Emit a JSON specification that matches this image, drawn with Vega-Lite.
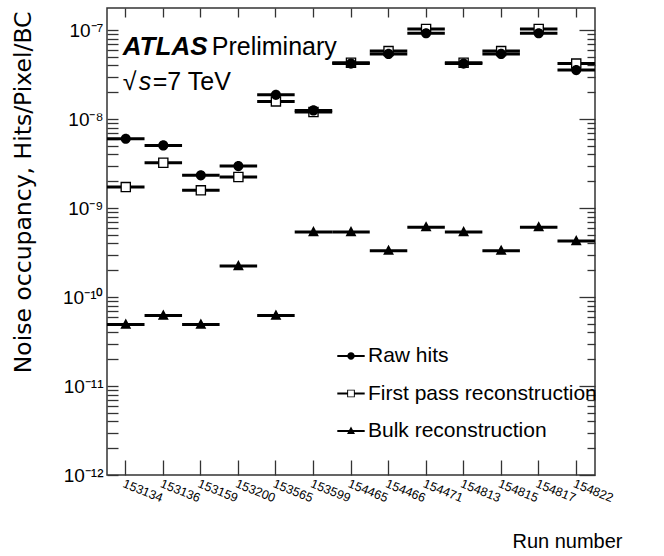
{
  "$schema": "https://vega.github.io/schema/vega-lite/v6.json",
  "width": 488,
  "height": 467,
  "autosize": {"type": "none"},
  "padding": {"left": 107, "top": 8, "right": 69, "bottom": 81},
  "background": "white",
  "config": {
    "view": {"stroke": "#333", "strokeWidth": 1.5},
    "axis": {"grid": false, "domain": false, "ticks": true, "tickColor": "#333", "tickWidth": 1.3, "labelColor": "black", "titleColor": "black", "labelFont": "Liberation Sans", "titleFont": "Liberation Sans", "titleFontWeight": "normal"}
  },
  "data": {"values": [
    {"run": "153134", "series": "First pass reconstruction", "value": 1.72e-9},
    {"run": "153136", "series": "First pass reconstruction", "value": 3.23e-9},
    {"run": "153159", "series": "First pass reconstruction", "value": 1.58e-9},
    {"run": "153200", "series": "First pass reconstruction", "value": 2.23e-9},
    {"run": "153565", "series": "First pass reconstruction", "value": 1.58e-8},
    {"run": "153599", "series": "First pass reconstruction", "value": 1.2e-8},
    {"run": "154465", "series": "First pass reconstruction", "value": 4.3e-8},
    {"run": "154466", "series": "First pass reconstruction", "value": 5.8e-8},
    {"run": "154471", "series": "First pass reconstruction", "value": 1.03e-7},
    {"run": "154813", "series": "First pass reconstruction", "value": 4.3e-8},
    {"run": "154815", "series": "First pass reconstruction", "value": 5.8e-8},
    {"run": "154817", "series": "First pass reconstruction", "value": 1.03e-7},
    {"run": "154822", "series": "First pass reconstruction", "value": 4.2e-8},
    {"run": "153134", "series": "Raw hits", "value": 6.0e-9},
    {"run": "153136", "series": "Raw hits", "value": 5.06e-9},
    {"run": "153159", "series": "Raw hits", "value": 2.33e-9},
    {"run": "153200", "series": "Raw hits", "value": 2.96e-9},
    {"run": "153565", "series": "Raw hits", "value": 1.87e-8},
    {"run": "153599", "series": "Raw hits", "value": 1.25e-8},
    {"run": "154465", "series": "Raw hits", "value": 4.2e-8},
    {"run": "154466", "series": "Raw hits", "value": 5.4e-8},
    {"run": "154471", "series": "Raw hits", "value": 9.2e-8},
    {"run": "154813", "series": "Raw hits", "value": 4.2e-8},
    {"run": "154815", "series": "Raw hits", "value": 5.4e-8},
    {"run": "154817", "series": "Raw hits", "value": 9.2e-8},
    {"run": "154822", "series": "Raw hits", "value": 3.55e-8},
    {"run": "153134", "series": "Bulk reconstruction", "value": 4.9e-11},
    {"run": "153136", "series": "Bulk reconstruction", "value": 6.2e-11},
    {"run": "153159", "series": "Bulk reconstruction", "value": 4.9e-11},
    {"run": "153200", "series": "Bulk reconstruction", "value": 2.23e-10},
    {"run": "153565", "series": "Bulk reconstruction", "value": 6.2e-11},
    {"run": "153599", "series": "Bulk reconstruction", "value": 5.37e-10},
    {"run": "154465", "series": "Bulk reconstruction", "value": 5.37e-10},
    {"run": "154466", "series": "Bulk reconstruction", "value": 3.32e-10},
    {"run": "154471", "series": "Bulk reconstruction", "value": 6.1e-10},
    {"run": "154813", "series": "Bulk reconstruction", "value": 5.37e-10},
    {"run": "154815", "series": "Bulk reconstruction", "value": 3.32e-10},
    {"run": "154817", "series": "Bulk reconstruction", "value": 6.1e-10},
    {"run": "154822", "series": "Bulk reconstruction", "value": 4.26e-10}
  ]},
  "layer": [
    {
      "transform": [{"filter": "datum.series === 'First pass reconstruction'"}],
      "mark": {"type": "point", "shape": "square", "filled": true, "fill": "white", "strokeWidth": 0, "size": 64, "opacity": 1},
      "encoding": {
        "x": {"field": "run", "type": "ordinal",
          "scale": {"type": "band", "paddingInner": 0, "paddingOuter": 0, "domain": ["153134","153136","153159","153200","153565","153599","154465","154466","154471","154813","154815","154817","154822"]},
          "axis": {"orient": "bottom", "title": "Run number", "titleX": 515, "titleY": 72, "titleAlign": "right", "titleBaseline": "alphabetic", "titleFontSize": 20, "labelAngle": 22, "labelAlign": "left", "labelBaseline": "top", "labelFontSize": 12.5, "labelPadding": 17, "tickSize": -15, "labelOverlap": false}},
        "y": {"field": "value", "type": "quantitative",
          "scale": {"type": "log", "domain": [1e-12, 1.77e-7], "nice": false},
          "axis": {"orient": "left", "offset": -11, "title": "Noise occupancy, Hits/Pixel/BC", "titleFont": "DejaVu Sans", "titleFontSize": 23.5, "titleAlign": "right", "titleAnchor": null, "titleX": -88, "titleY": 3, "titleBaseline": "alphabetic", "titleAngle": -90,
            "values": [1e-12,2e-12,3e-12,4e-12,5e-12,6e-12,7e-12,8e-12,9e-12,1e-11,2e-11,3e-11,4e-11,5e-11,6e-11,7e-11,8e-11,9e-11,1e-10,2e-10,3e-10,4e-10,5e-10,6e-10,7e-10,8e-10,9e-10,1e-9,2e-9,3e-9,4e-9,5e-9,6e-9,7e-9,8e-9,9e-9,1e-8,2e-8,3e-8,4e-8,5e-8,6e-8,7e-8,8e-8,9e-8,1e-7],
            "labelExpr": "abs(log(datum.value)/LN10 - round(log(datum.value)/LN10)) < 0.001 ? ['10⁻¹²','10⁻¹¹','10⁻¹⁰','10⁻⁹','10⁻⁸','10⁻⁷'][round(log(datum.value)/LN10)+12] : ''",
            "labelFontSize": 19, "labelPadding": 4, "labelOverlap": false, "labelFlush": false, "labelBound": false,
            "ticks": true, "tickColor": "#333", "tickWidth": 1.3,
            "tickSize": 11}}
      }
    },
    {
      "mark": {"type": "point", "filled": true, "fill": "black", "strokeWidth": 0, "size": 1406, "opacity": 1},
      "encoding": {
        "x": {"field": "run", "type": "ordinal",
          "scale": {"type": "band", "paddingInner": 0, "paddingOuter": 0, "domain": ["153134","153136","153159","153200","153565","153599","154465","154466","154471","154813","154815","154817","154822"]},
          "axis": {"orient": "top", "offset": -9, "labels": false, "title": null, "tickSize": 9}},
        "y": {"field": "value", "type": "quantitative",
          "scale": {"type": "log", "domain": [1e-12, 1.77e-7], "nice": false},
          "axis": {"orient": "right", "labels": false, "title": null,
            "values": [1e-12,2e-12,3e-12,4e-12,5e-12,6e-12,7e-12,8e-12,9e-12,1e-11,2e-11,3e-11,4e-11,5e-11,6e-11,7e-11,8e-11,9e-11,1e-10,2e-10,3e-10,4e-10,5e-10,6e-10,7e-10,8e-10,9e-10,1e-9,2e-9,3e-9,4e-9,5e-9,6e-9,7e-9,8e-9,9e-9,1e-8,2e-8,3e-8,4e-8,5e-8,6e-8,7e-8,8e-8,9e-8,1e-7],
            "tickSize": {"condition": {"test": "abs(log(datum.value)/LN10 - round(log(datum.value)/LN10)) < 0.001", "value": -16}, "value": -8}}},
        "shape": {"field": "series", "type": "nominal",
          "scale": {"domain": ["Raw hits", "First pass reconstruction", "Bulk reconstruction"],
            "range": [
              "M-1,-0.08H1V0.08H-1Z M-0.27,0A0.27,0.27 0 1,1 0.27,0A0.27,0.27 0 1,1 -0.27,0Z",
              "M-1,-0.08H-0.28V0.08H-1Z M0.28,-0.08H1V0.08H0.28Z M-0.28,-0.28H0.28V0.28H-0.28Z M-0.21,-0.21V0.21H0.21V-0.21Z",
              "M-1,-0.08H1V0.08H-1Z M0,-0.32L0.29,0.22H-0.29Z"
            ]},
          "legend": {"orient": "none", "legendX": 230, "legendY": 334, "title": null, "labelFont": "Liberation Sans", "labelFontSize": 21, "labelColor": "black", "labelLimit": 400, "symbolSize": 750, "symbolFillColor": "black", "symbolStrokeWidth": 0, "rowPadding": 13.5, "labelOffset": 3, "padding": 0}}
      }
    },
    {
      "data": {"values": [{"run": "153134", "value": 5.24e-8, "label": "ATLAS"}]},
      "mark": {"type": "text", "align": "left", "baseline": "alphabetic", "font": "Liberation Sans", "fontSize": 26, "fontWeight": "bold", "fontStyle": "italic", "dx": -3, "color": "black"},
      "encoding": {"x": {"field": "run", "type": "ordinal", "axis": null, "scale": {"type": "band", "paddingInner": 0, "paddingOuter": 0, "domain": ["153134","153136","153159","153200","153565","153599","154465","154466","154471","154813","154815","154817","154822"]}}, "y": {"field": "value", "type": "quantitative", "axis": null, "scale": {"type": "log", "domain": [1e-12, 1.77e-7], "nice": false}}, "text": {"field": "label"}}
    },
    {
      "data": {"values": [{"run": "153134", "value": 5.24e-8, "label": "Preliminary"}]},
      "mark": {"type": "text", "align": "left", "baseline": "alphabetic", "font": "Liberation Sans", "fontSize": 25, "dx": 86, "color": "black"},
      "encoding": {"x": {"field": "run", "type": "ordinal", "axis": null, "scale": {"type": "band", "paddingInner": 0, "paddingOuter": 0, "domain": ["153134","153136","153159","153200","153565","153599","154465","154466","154471","154813","154815","154817","154822"]}}, "y": {"field": "value", "type": "quantitative", "axis": null, "scale": {"type": "log", "domain": [1e-12, 1.77e-7], "nice": false}}, "text": {"field": "label"}}
    },
    {
      "data": {"values": [{"run": "153134", "value": 2.12e-8, "label": "√"}]},
      "mark": {"type": "text", "align": "left", "baseline": "alphabetic", "font": "Liberation Sans", "fontSize": 25, "dx": -3, "color": "black"},
      "encoding": {"x": {"field": "run", "type": "ordinal", "axis": null, "scale": {"type": "band", "paddingInner": 0, "paddingOuter": 0, "domain": ["153134","153136","153159","153200","153565","153599","154465","154466","154471","154813","154815","154817","154822"]}}, "y": {"field": "value", "type": "quantitative", "axis": null, "scale": {"type": "log", "domain": [1e-12, 1.77e-7], "nice": false}}, "text": {"field": "label"}}
    },
    {
      "data": {"values": [{"run": "153134", "value": 2.12e-8, "label": "s"}]},
      "mark": {"type": "text", "align": "left", "baseline": "alphabetic", "font": "Liberation Sans", "fontSize": 25, "fontStyle": "italic", "dx": 13, "color": "black"},
      "encoding": {"x": {"field": "run", "type": "ordinal", "axis": null, "scale": {"type": "band", "paddingInner": 0, "paddingOuter": 0, "domain": ["153134","153136","153159","153200","153565","153599","154465","154466","154471","154813","154815","154817","154822"]}}, "y": {"field": "value", "type": "quantitative", "axis": null, "scale": {"type": "log", "domain": [1e-12, 1.77e-7], "nice": false}}, "text": {"field": "label"}}
    },
    {
      "data": {"values": [{"run": "153134", "value": 2.12e-8, "label": "=7 TeV"}]},
      "mark": {"type": "text", "align": "left", "baseline": "alphabetic", "font": "Liberation Sans", "fontSize": 25, "dx": 27, "color": "black"},
      "encoding": {"x": {"field": "run", "type": "ordinal", "axis": null, "scale": {"type": "band", "paddingInner": 0, "paddingOuter": 0, "domain": ["153134","153136","153159","153200","153565","153599","154465","154466","154471","154813","154815","154817","154822"]}}, "y": {"field": "value", "type": "quantitative", "axis": null, "scale": {"type": "log", "domain": [1e-12, 1.77e-7], "nice": false}}, "text": {"field": "label"}}
    }
  ],
  "resolve": {"scale": {"x": "independent", "y": "independent"}, "axis": {"x": "independent", "y": "independent"}}
}
